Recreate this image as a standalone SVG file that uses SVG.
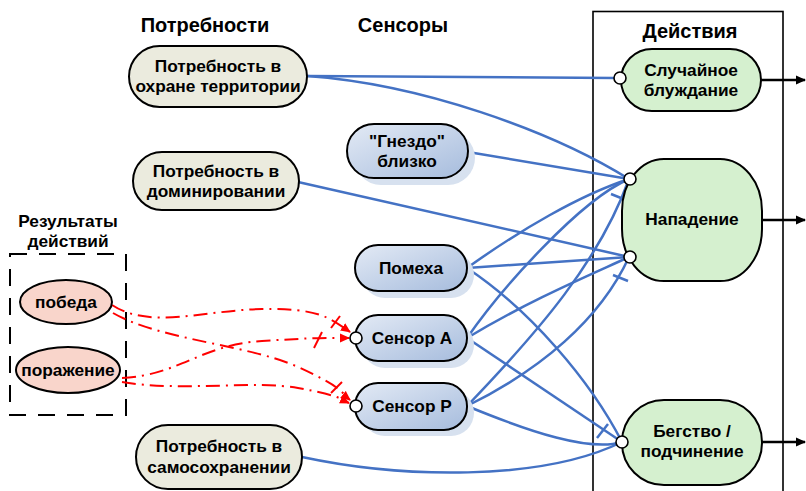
<svg xmlns="http://www.w3.org/2000/svg" width="806" height="491" viewBox="0 0 806 491">
  <defs>
    <linearGradient id="sensorFill" x1="0" y1="0" x2="1" y2="1">
      <stop offset="0" stop-color="#e3eaf5"/>
      <stop offset="1" stop-color="#a6bcdd"/>
    </linearGradient>
    <marker id="redArrow" viewBox="0 0 10 10" refX="9" refY="5" markerWidth="10" markerHeight="10" markerUnits="userSpaceOnUse" orient="auto">
      <path d="M0,0.5 L10,5 L0,9.5 z" fill="#ff0000"/>
    </marker>
    <marker id="blackArrow" viewBox="0 0 10 10" refX="9" refY="5" markerWidth="10" markerHeight="10" markerUnits="userSpaceOnUse" orient="auto">
      <path d="M0,0.5 L10,5 L0,9.5 z" fill="#000"/>
    </marker>
  </defs>
  <style>
    text { font-family: "Liberation Sans", Arial, sans-serif; font-weight: bold; fill: #000; text-anchor: middle; }
    .hdr { font-size: 20px; }
    .lbl { font-size: 17.3px; }
    .need { fill: #ebebde; stroke: #000; stroke-width: 2; }
    .sensor { fill: url(#sensorFill); stroke: #000; stroke-width: 2; }
    .shadow { fill: #d7e1ef; }
    .action { fill: #d5f0cf; stroke: #000; stroke-width: 2; }
    .result { fill: #f9d5cb; stroke: #000; stroke-width: 2; }
    .port { fill: #fff; stroke: #000; stroke-width: 1.6; }
    .link { fill: none; stroke: #4472c4; stroke-width: 2.5; }
    .tick { fill: none; stroke: #4472c4; stroke-width: 2.5; }
    .fb { fill: none; stroke: #ff0000; stroke-width: 2; stroke-dasharray: 14 6 2 6; marker-end: url(#redArrow); }
    .fbtick { fill: none; stroke: #ff0000; stroke-width: 2; }
    .out { fill: none; stroke: #000; stroke-width: 2.5; marker-end: url(#blackArrow); }
  </style>

  <!-- column headers -->
  <text class="hdr" x="205" y="32">Потребности</text>
  <text class="hdr" x="403" y="32">Сенсоры</text>

  <!-- action frame -->
  <rect x="593" y="11.5" width="190" height="490" fill="none" stroke="#000" stroke-width="1.6"/>
  <text class="hdr" x="690" y="38">Действия</text>

  <!-- action results block -->
  <g id="results">
    <rect x="10" y="254" width="116" height="161" fill="none" stroke="#000" stroke-width="2" stroke-dasharray="17 12"/>
    <text class="lbl" x="68" y="227">Результаты</text>
    <text class="lbl" x="68" y="247">действий</text>
  </g>

  <!-- feedback connectors (red) -->
  <g id="feedback">
    <path class="fb" d="M112,305 C150,330 205,310 262,309 S330,318 350,332"/>
    <path class="fb" d="M113,313 C160,340 250,345 298,367 S340,392 350,400"/>
    <path class="fb" d="M122,378 C180,375 200,345 262,341 S330,338 349,338"/>
    <path class="fb" d="M122,382 C180,392 255,380 298,388 S338,398 349,403"/>
    <path class="fbtick" d="M331,328 L340,316"/>
    <path class="fbtick" d="M314,348 L322,332"/>
    <path class="fbtick" d="M331,393 L342,382"/>
  </g>

  <!-- excitatory / inhibitory connectors (blue) -->
  <g id="connectors">
    <path class="link" d="M307,76 L615,78"/>
    <path class="link" d="M307,76 C420,84 550,130 629,179"/>
    <path class="link" d="M468,152 L629,179"/>
    <path class="link" d="M298,182 L629,257"/>
    <path class="link" d="M467,268 C520,230 580,195 629,179"/>
    <path class="link" d="M467,268 L629,257"/>
    <path class="link" d="M467,268 C530,310 590,380 622,442"/>
    <path class="link" d="M467,338 C500,290 580,200 629,179"/>
    <path class="link" d="M467,338 C530,300 590,275 629,257"/>
    <path class="link" d="M467,338 L622,442"/>
    <path class="link" d="M467,406 C540,330 600,260 629,179"/>
    <path class="link" d="M467,406 C540,370 600,320 629,257"/>
    <path class="link" d="M467,406 C530,432 590,452 622,442"/>
    <path class="link" d="M302,457 C400,478 540,482 622,442"/>
    <path class="tick" d="M611,194 L626,200"/>
    <path class="tick" d="M613,275 L628,281"/>
    <path class="tick" d="M597,438 L608,424"/>
  </g>

  <!-- output arrows -->
  <g id="outputs">
    <path class="out" d="M761,80 L805,80"/>
    <path class="out" d="M762,220 L805,220"/>
    <path class="out" d="M762,442 L805,442"/>
  </g>

  <!-- needs -->
  <g id="need-territory">
    <rect class="need" x="129" y="46" width="178" height="61" rx="30.5"/>
    <text class="lbl" x="218" y="72">Потребность в</text>
    <text class="lbl" x="218" y="92">охране территории</text>
  </g>
  <g id="need-dominance">
    <rect class="need" x="133" y="152" width="166" height="58" rx="29"/>
    <text class="lbl" x="216" y="177">Потребность в</text>
    <text class="lbl" x="216" y="197">доминировании</text>
  </g>
  <g id="need-selfpreservation">
    <rect class="need" x="136" y="425" width="166" height="64" rx="32"/>
    <text class="lbl" x="219" y="452">Потребность в</text>
    <text class="lbl" x="219" y="473">самосохранении</text>
  </g>

  <!-- sensors -->
  <g id="sensor-nest">
    <rect class="shadow" x="354" y="131" width="121" height="54" rx="27"/>
    <rect class="sensor" x="347" y="124" width="121" height="54" rx="27"/>
    <text class="lbl" x="407" y="147">"Гнездо"</text>
    <text class="lbl" x="407" y="167">близко</text>
  </g>
  <g id="sensor-interference">
    <rect class="shadow" x="362" y="252" width="112" height="46" rx="23"/>
    <rect class="sensor" x="355" y="245" width="112" height="46" rx="23"/>
    <text class="lbl" x="411" y="274">Помеха</text>
  </g>
  <g id="sensor-a">
    <rect class="shadow" x="362" y="322" width="112" height="46" rx="23"/>
    <rect class="sensor" x="355" y="315" width="112" height="46" rx="23"/>
    <text class="lbl" x="412" y="344">Сенсор А</text>
    <circle class="port" cx="356" cy="338" r="6"/>
  </g>
  <g id="sensor-p">
    <rect class="shadow" x="362" y="390" width="112" height="46" rx="23"/>
    <rect class="sensor" x="355" y="383" width="112" height="47" rx="23"/>
    <text class="lbl" x="412" y="412">Сенсор Р</text>
    <circle class="port" cx="356" cy="406" r="6"/>
  </g>

  <!-- actions -->
  <g id="action-wander">
    <rect class="action" x="621" y="49" width="140" height="62" rx="31"/>
    <text class="lbl" x="691" y="76">Случайное</text>
    <text class="lbl" x="691" y="96">блуждание</text>
    <circle class="port" cx="620" cy="78" r="6"/>
  </g>
  <g id="action-attack">
    <rect class="action" x="622" y="159" width="140" height="122" rx="42" ry="52"/>
    <text class="lbl" x="692" y="225">Нападение</text>
    <circle class="port" cx="630" cy="179" r="6"/>
    <circle class="port" cx="630" cy="257" r="6"/>
  </g>
  <g id="action-flee">
    <rect class="action" x="622" y="400" width="140" height="85" rx="42"/>
    <text class="lbl" x="692" y="437">Бегство /</text>
    <text class="lbl" x="692" y="457">подчинение</text>
    <circle class="port" cx="622" cy="442" r="6"/>
  </g>

  <!-- action results -->
  <g id="result-win">
    <ellipse class="result" cx="66" cy="302" rx="46" ry="22"/>
    <text class="lbl" x="66" y="308">победа</text>
  </g>
  <g id="result-loss">
    <ellipse class="result" cx="68" cy="370" rx="52" ry="23"/>
    <text class="lbl" x="68" y="376">поражение</text>
  </g>
</svg>
